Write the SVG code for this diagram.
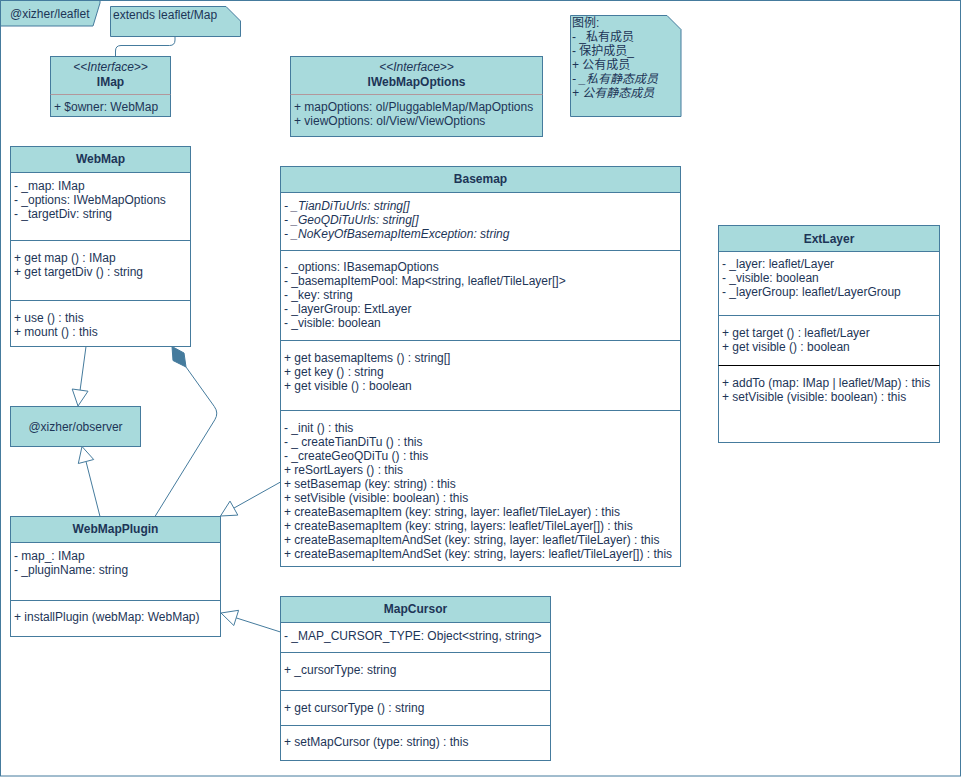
<svg xmlns="http://www.w3.org/2000/svg" width="961" height="777" viewBox="0 0 961 777">
<style>
.fr{fill:none;stroke:#457B9D;stroke-width:1}
.hd{fill:#A8DADC;stroke:#457B9D;stroke-width:1}
.bx{fill:#FFFFFF;stroke:#457B9D;stroke-width:1}
.ln{stroke:#457B9D;stroke-width:1;fill:none}
.t{font-family:"Liberation Sans",Arial,Helvetica,sans-serif;font-size:12px;fill:#1D3557}
.cj{font-family:"Liberation Sans","Noto Sans CJK SC",sans-serif;font-size:12px;fill:#1D3557}
.b{font-weight:bold}
.c{text-anchor:middle}
.i{font-style:italic}
.tri{fill:#FFFFFF;stroke:#457B9D;stroke-width:1}
</style>
<rect x="0" y="0" width="961" height="777" fill="#FFFFFF"/>
<g id="frame">
<rect class="fr" x="0.5" y="0.5" width="960" height="775.5"/>
<polygon class="hd" points="0.5,0.5 100,0.5 100,3 93,26 0.5,26"/>
<text class="t" x="10" y="18">@xizher/leaflet</text>
</g>
<g id="note-extends">
<polygon class="hd" points="110.5,6.5 226,6.5 240.5,21 240.5,36.5 110.5,36.5"/>
<text class="t" x="113" y="19">extends leaflet/Map</text>
</g>
<g id="legend">
<polygon class="hd" points="570.5,15.5 667,15.5 681,29.5 681,116.5 570.5,116.5"/>
<text class="cj" x="572" y="27">图例:</text>
<text class="cj" x="572" y="41">- _私有成员</text>
<text class="cj" x="572" y="55">- 保护成员_</text>
<text class="cj" x="572" y="69">+ 公有成员</text>
<text class="cj i" x="572" y="83">- _私有静态成员</text>
<text class="cj i" x="572" y="97">+ 公有静态成员</text>
</g>
<g id="IMap">
<rect class="hd" x="50.5" y="56.5" width="120" height="60"/>
<line x1="50.5" y1="94.5" x2="170.5" y2="94.5" stroke="#B3979B" stroke-width="1"/>
<text class="t c i" x="110.5" y="71">&lt;&lt;Interface&gt;&gt;</text>
<text class="t c b" x="110.5" y="86">IMap</text>
<text class="t" x="54" y="111">+ $owner: WebMap</text>
</g>
<g id="IWebMapOptions">
<rect class="hd" x="290.5" y="56.5" width="252" height="80"/>
<line x1="290.5" y1="94.5" x2="542.5" y2="94.5" stroke="#B3979B" stroke-width="1"/>
<text class="t c i" x="416.5" y="71">&lt;&lt;Interface&gt;&gt;</text>
<text class="t c b" x="416.5" y="86">IWebMapOptions</text>
<text class="t" x="294" y="111">+ mapOptions: ol/PluggableMap/MapOptions</text>
<text class="t" x="294" y="125">+ viewOptions: ol/View/ViewOptions</text>
</g>
<g id="WebMap">
<rect class="bx" x="10.5" y="146.5" width="180" height="200"/>
<rect class="hd" x="10.5" y="146.5" width="180" height="26"/>
<line class="ln" x1="10.5" y1="240.5" x2="190.5" y2="240.5"/>
<line class="ln" x1="10.5" y1="300.5" x2="190.5" y2="300.5"/>
<text class="t c b" x="100.5" y="163">WebMap</text>
<text class="t" x="14" y="190">- _map: IMap</text>
<text class="t" x="14" y="204">- _options: IWebMapOptions</text>
<text class="t" x="14" y="218">- _targetDiv: string</text>
<text class="t" x="14" y="262">+ get map () : IMap</text>
<text class="t" x="14" y="276">+ get targetDiv () : string</text>
<text class="t" x="14" y="322">+ use () : this</text>
<text class="t" x="14" y="336">+ mount () : this</text>
</g>
<g id="Basemap">
<rect class="bx" x="280.5" y="166.5" width="400" height="400"/>
<rect class="hd" x="280.5" y="166.5" width="400" height="26"/>
<line class="ln" x1="280.5" y1="250.5" x2="680.5" y2="250.5"/>
<line class="ln" x1="280.5" y1="340.5" x2="680.5" y2="340.5"/>
<line class="ln" x1="280.5" y1="410.5" x2="680.5" y2="410.5"/>
<text class="t c b" x="480.5" y="183">Basemap</text>
<text class="t i" x="284" y="210">- _TianDiTuUrls: string[]</text>
<text class="t i" x="284" y="224">- _GeoQDiTuUrls: string[]</text>
<text class="t i" x="284" y="238">- _NoKeyOfBasemapItemException: string</text>
<text class="t" x="284" y="271">- _options: IBasemapOptions</text>
<text class="t" x="284" y="285">- _basemapItemPool: Map&lt;string, leaflet/TileLayer[]&gt;</text>
<text class="t" x="284" y="299">- _key: string</text>
<text class="t" x="284" y="313">- _layerGroup: ExtLayer</text>
<text class="t" x="284" y="327">- _visible: boolean</text>
<text class="t" x="284" y="362">+ get basemapItems () : string[]</text>
<text class="t" x="284" y="376">+ get key () : string</text>
<text class="t" x="284" y="390">+ get visible () : boolean</text>
<text class="t" x="284" y="432">- _init () : this</text>
<text class="t" x="284" y="446">- _ createTianDiTu () : this</text>
<text class="t" x="284" y="460">- _createGeoQDiTu () : this</text>
<text class="t" x="284" y="474">+ reSortLayers () : this</text>
<text class="t" x="284" y="488">+ setBasemap (key: string) : this</text>
<text class="t" x="284" y="502">+ setVisible (visible: boolean) : this</text>
<text class="t" x="284" y="516">+ createBasemapItem (key: string, layer: leaflet/TileLayer) : this</text>
<text class="t" x="284" y="530">+ createBasemapItem (key: string, layers: leaflet/TileLayer[]) : this</text>
<text class="t" x="284" y="544">+ createBasemapItemAndSet (key: string, layer: leaflet/TileLayer) : this</text>
<text class="t" x="284" y="558">+ createBasemapItemAndSet (key: string, layers: leaflet/TileLayer[]) : this</text>
</g>
<g id="ExtLayer">
<rect class="bx" x="718.5" y="225.5" width="221" height="217"/>
<rect class="hd" x="718.5" y="225.5" width="221" height="26"/>
<line class="ln" x1="718.5" y1="315.5" x2="939.5" y2="315.5"/>
<line x1="718.5" y1="365.5" x2="939.5" y2="365.5" stroke="#000000" stroke-width="1"/>
<text class="t c b" x="829" y="243">ExtLayer</text>
<text class="t" x="722" y="268">- _layer: leaflet/Layer</text>
<text class="t" x="722" y="282">- _visible: boolean</text>
<text class="t" x="722" y="296">- _layerGroup: leaflet/LayerGroup</text>
<text class="t" x="722" y="337">+ get target () : leaflet/Layer</text>
<text class="t" x="722" y="351">+ get visible () : boolean</text>
<text class="t" x="722" y="387">+ addTo (map: IMap | leaflet/Map) : this</text>
<text class="t" x="722" y="401">+ setVisible (visible: boolean) : this</text>
</g>
<g id="observer">
<rect class="hd" x="10.5" y="406.5" width="130" height="40"/>
<text class="t c" x="75.5" y="431">@xizher/observer</text>
</g>
<g id="WebMapPlugin">
<rect class="bx" x="10.5" y="516.5" width="210" height="120"/>
<rect class="hd" x="10.5" y="516.5" width="210" height="26"/>
<line class="ln" x1="10.5" y1="600.5" x2="220.5" y2="600.5"/>
<text class="t c b" x="115.5" y="533">WebMapPlugin</text>
<text class="t" x="14" y="560">- map_: IMap</text>
<text class="t" x="14" y="574">- _pluginName: string</text>
<text class="t" x="14" y="621">+ installPlugin (webMap: WebMap)</text>
</g>
<g id="MapCursor">
<rect class="bx" x="280.5" y="596.5" width="270" height="164"/>
<rect class="hd" x="280.5" y="596.5" width="270" height="26"/>
<line class="ln" x1="280.5" y1="652.5" x2="550.5" y2="652.5"/>
<line class="ln" x1="280.5" y1="690.5" x2="550.5" y2="690.5"/>
<line class="ln" x1="280.5" y1="725.5" x2="550.5" y2="725.5"/>
<text class="t c b" x="415.5" y="613">MapCursor</text>
<text class="t" x="284" y="640">- _MAP_CURSOR_TYPE: Object&lt;string, string&gt;</text>
<text class="t" x="284" y="674">+ _cursorType: string</text>
<text class="t" x="284" y="712">+ get cursorType () : string</text>
<text class="t" x="284" y="746">+ setMapCursor (type: string) : this</text>
</g>
<g id="connectors">
<path class="ln" d="M175,36.5 V40 Q175,45.5 169.5,45.5 H121 Q115.5,45.5 115.5,51 V56.5"/>
<line class="ln" x1="86" y1="346.5" x2="80.1" y2="390.1"/>
<polygon class="tri" points="78,406 88,391.2 72.2,389"/>
<line class="ln" x1="100" y1="516.5" x2="86" y2="461.5"/>
<polygon class="tri" points="82,446.5 93.7,459.5 78.3,463.5"/>
<path class="ln" d="M186,367 L214.3,406.5 Q219,413 214.8,419.8 L155,516.5"/>
<polygon points="172,346.5 184,353 186,367 173,360.5" fill="#457B9D" stroke="#457B9D" stroke-width="1"/>
<line class="ln" x1="280.5" y1="482" x2="233.9" y2="508.1"/>
<polygon class="tri" points="220.5,516 237.8,515.1 230,501.1"/>
<line class="ln" x1="280.5" y1="632" x2="236.2" y2="617.9"/>
<polygon class="tri" points="221,613 233.8,625.5 238.6,610.3"/>
</g>
</svg>
